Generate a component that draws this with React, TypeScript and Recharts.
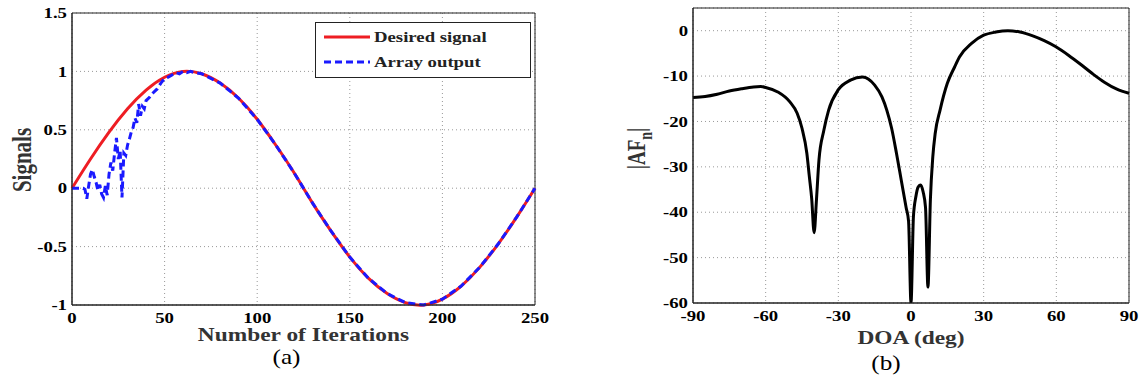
import {
  LineChart,
  Line,
  XAxis,
  YAxis,
  CartesianGrid,
  ReferenceArea,
  Legend,
  Label,
} from "recharts";

// (a) desired signal vs array output
const iterTicks = [0, 50, 100, 150, 200, 250];
const signalTicks = [-1, -0.5, 0, 0.5, 1, 1.5];

const desiredIter = [0, 10, 20, 30, 40, 50, 60, 70, 80, 90, 100, 110, 120, 130, 140, 150, 160, 170, 180, 190, 200, 210, 220, 230, 240, 250];
const desiredValues = [0, 0.25, 0.48, 0.68, 0.84, 0.95, 1.0, 0.98, 0.9, 0.77, 0.59, 0.37, 0.13, -0.13, -0.37, -0.59, -0.77, -0.9, -0.98, -1.0, -0.95, -0.84, -0.68, -0.48, -0.25, 0];

const arrayIter = [0, 3, 6, 7, 8, 9, 10, 11, 12, 13, 14, 15, 16, 17, 18, 19, 20, 21, 22, 23, 24, 25, 26, 27, 28, 29, 30, 31, 32, 33, 34, 35, 36, 37, 38, 39, 40, 42, 44, 46, 48, 50, 52, 54, 56, 58, 60, 62, 64, 66, 70, 80, 90, 100, 110, 120, 130, 140, 150, 160, 170, 180, 190, 200, 210, 220, 230, 240, 250];
const arrayValues = [0, 0, 0, -0.01, -0.09, 0.02, 0.12, 0.16, 0.1, 0.05, -0.02, 0.03, -0.05, -0.08, 0.02, -0.06, 0.12, 0.22, 0.15, 0.3, 0.43, 0.25, 0.32, -0.08, 0.3, 0.28, 0.37, 0.42, 0.48, 0.52, 0.6, 0.56, 0.72, 0.62, 0.7, 0.68, 0.75, 0.78, 0.82, 0.85, 0.9, 0.94, 0.95, 0.97, 0.99, 0.98, 1.0, 0.99, 1.0, 0.99, 0.98, 0.9, 0.77, 0.59, 0.37, 0.13, -0.13, -0.37, -0.59, -0.77, -0.9, -0.98, -1.0, -0.95, -0.84, -0.68, -0.48, -0.25, 0];

const legendOrder = ["Desired signal", "Array output"];

// (b) normalised array factor
const doaTicks = [-90, -60, -30, 0, 30, 60, 90];
const afTicks = [-60, -50, -40, -30, -20, -10, 0];
const doaAngles = [-90, -85, -80, -75, -70, -65, -62, -60, -55, -50, -47, -45, -43, -42, -41, -40, -39, -38, -36, -34, -30, -25, -20, -15, -12, -10, -8, -6, -4, -2, -1, 0, 1, 2, 3, 4, 5, 6, 7, 8, 9, 10, 12, 15, 18, 20, 25, 30, 35, 40, 45, 50, 55, 60, 65, 70, 75, 80, 85, 90];
const afValues = [-14.7, -14.5, -14.0, -13.3, -12.8, -12.4, -12.3, -12.5, -13.5, -15.7, -18.2, -21.5, -27, -32, -37, -44.5, -37, -28.5, -22, -17.5, -13, -10.9, -10.2, -12, -14.6, -17.5, -21.5, -27, -33, -39, -42, -60, -41, -36.6, -34.4, -34, -35.5, -39, -56.5, -37.3, -27.8, -22.6, -17.5, -11.6, -8, -5.8, -2.8, -1, -0.3, 0, -0.3, -1.1, -2.2, -3.6, -5.4, -7.4, -9.5, -11.4, -12.9, -13.8];

const desiredData = desiredIter.map((n, i) => ({ n, v: desiredValues[i] }));
const arrayData = arrayIter.map((n, i) => ({ n, v: arrayValues[i] }));
const afData = doaAngles.map((deg, i) => ({ deg, af: afValues[i] }));

const FONT = "Liberation Serif";
const SX = 1.25; // the figure is a bit wider than tall, text looks stretched
const RED = "#ee1d23";
const BLUE = "#1a1aff";

const boldText = { fontFamily: FONT, fontWeight: 700 } as const;

function XTick({ x, y, payload }: any) {
  return (
    <text
      transform={`translate(${x},${y}) scale(${SX},1)`}
      textAnchor="middle"
      dy="0.71em"
      style={{ ...boldText, fontSize: 15 }}
      fill="#000"
    >
      {payload.value}
    </text>
  );
}

function YTick({ x, y, payload }: any) {
  return (
    <text
      transform={`translate(${x},${y}) scale(${SX},1)`}
      textAnchor="end"
      dy="0.35em"
      style={{ ...boldText, fontSize: 15 }}
      fill="#000"
    >
      {payload.value}
    </text>
  );
}

// horizontal title below an x axis, baseline `dy` px under the axis line
const bottomTitle =
  (text: string, dy: number, size: number, bold: boolean, dx = 0, sx = 1.3) =>
  (props: any) => {
    const vb = props.viewBox;
    const cx = vb.x + vb.width / 2 + dx;
    return (
      <text
        transform={`translate(${cx},${vb.y + dy}) scale(${sx},1)`}
        textAnchor="middle"
        style={{ fontFamily: FONT, fontWeight: bold ? 700 : 400, fontSize: size }}
        fill={bold ? "#333" : "#000"}
      >
        {text}
      </text>
    );
  };

function SignalsTitle(props: any) {
  const vb = props.viewBox;
  return (
    <text
      transform={`translate(${vb.x + 31},${vb.y + vb.height / 2 + 1}) scale(1.3,1) rotate(-90)`}
      textAnchor="middle"
      style={{ ...boldText, fontSize: 21 }}
      fill="#333"
    >
      Signals
    </text>
  );
}

function AfTitle(props: any) {
  const vb = props.viewBox;
  return (
    <text
      transform={`translate(${vb.x + 75},${vb.y + vb.height / 2 - 7}) scale(1.3,1) rotate(-90)`}
      textAnchor="middle"
      style={{ ...boldText, fontSize: 19 }}
      fill="#333"
    >
      |AF
      <tspan style={{ fontSize: 14 }} dy={5}>n</tspan>
      <tspan dy={-5}>|</tspan>
    </text>
  );
}

function SignalLegend(props: any) {
  const items = [...(props.payload || [])].sort(
    (a: any, b: any) => legendOrder.indexOf(a.value) - legendOrder.indexOf(b.value)
  );
  return (
    <svg width={216} height={56} style={{ display: "block" }}>
      <rect x={0.5} y={0.5} width={215} height={55} fill="#fff" stroke="#222" />
      {items.map((item: any, i: number) => {
        const y = 15 + i * 25;
        return (
          <g key={item.value}>
            <line
              x1={9}
              x2={55}
              y1={y}
              y2={y}
              stroke={item.color}
              strokeWidth={3}
              strokeDasharray={item.payload?.strokeDasharray}
            />
            <text
              transform={`translate(59,${y}) scale(${SX},1)`}
              dy="0.33em"
              style={{ ...boldText, fontSize: 15 }}
              fill="#222"
            >
              {item.value}
            </text>
          </g>
        );
      })}
    </svg>
  );
}

function SignalsChart() {
  return (
    <LineChart width={560} height={382} margin={{ top: 13, right: 25, left: 0, bottom: 0 }}>
      <CartesianGrid stroke="#999" strokeDasharray="1 3" />
      <XAxis
        dataKey="n"
        type="number"
        domain={[0, 250]}
        ticks={iterTicks}
        height={77}
        tickSize={0}
        tickMargin={7}
        tickLine={false}
        axisLine={{ stroke: "#222" }}
        tick={<XTick />}
        allowDuplicatedCategory={false}
      >
        <Label content={bottomTitle("Number of Iterations", 36, 18, true)} />
        <Label content={bottomTitle("(a)", 59, 21, false, -17, 1.2)} />
      </XAxis>
      <YAxis
        type="number"
        domain={[-1, 1.5]}
        ticks={signalTicks}
        width={72}
        tickSize={0}
        tickMargin={5}
        tickLine={false}
        axisLine={{ stroke: "#222" }}
        tick={<YTick />}
      >
        <Label content={<SignalsTitle />} />
      </YAxis>
      <ReferenceArea x1={0} x2={250} y1={-1} y2={1.5} fill="none" stroke="#222" strokeWidth={1} />
      <Legend
        layout="vertical"
        align="center"
        verticalAlign="middle"
        wrapperStyle={{ left: 315, top: 22, width: 216, height: 56 }}
        content={<SignalLegend />}
      />
      <Line
        data={desiredData}
        dataKey="v"
        name="Desired signal"
        type="natural"
        stroke={RED}
        strokeWidth={3}
        dot={false}
        isAnimationActive={false}
      />
      <Line
        data={arrayData}
        dataKey="v"
        name="Array output"
        type="linear"
        stroke={BLUE}
        strokeWidth={3}
        strokeDasharray="7 4"
        dot={false}
        isAnimationActive={false}
      />
    </LineChart>
  );
}

function ArrayFactorChart() {
  return (
    <LineChart width={569} height={382} data={afData} margin={{ top: 8, right: 10, left: 0, bottom: 0 }}>
      <CartesianGrid stroke="#999" strokeDasharray="1 3" />
      <XAxis
        dataKey="deg"
        type="number"
        domain={[-90, 90]}
        ticks={doaTicks}
        height={79}
        tickSize={0}
        tickMargin={7}
        tickLine={false}
        axisLine={{ stroke: "#222" }}
        tick={<XTick />}
      >
        <Label content={bottomTitle("DOA (deg)", 41, 18, true)} />
        <Label content={bottomTitle("(b)", 67, 21, false, -25, 1.2)} />
      </XAxis>
      <YAxis
        type="number"
        domain={[-60, 5]}
        ticks={afTicks}
        width={123}
        tickSize={0}
        tickMargin={5}
        tickLine={false}
        axisLine={{ stroke: "#222" }}
        tick={<YTick />}
        allowDataOverflow
      >
        <Label content={<AfTitle />} />
      </YAxis>
      <ReferenceArea x1={-90} x2={90} y1={-60} y2={5} fill="none" stroke="#222" strokeWidth={1} />
      <Line
        dataKey="af"
        type="monotone"
        stroke="#000"
        strokeWidth={3}
        dot={false}
        isAnimationActive={false}
      />
    </LineChart>
  );
}

export default function App() {
  return (
    <div
      style={{
        position: "absolute",
        left: 0,
        top: 0,
        width: 1139,
        height: 382,
        background: "#fff",
        fontFamily: FONT,
      }}
    >
      <div style={{ position: "absolute", left: 0, top: 0 }}>
        <SignalsChart />
      </div>
      <div style={{ position: "absolute", left: 570, top: 0 }}>
        <ArrayFactorChart />
      </div>
    </div>
  );
}
